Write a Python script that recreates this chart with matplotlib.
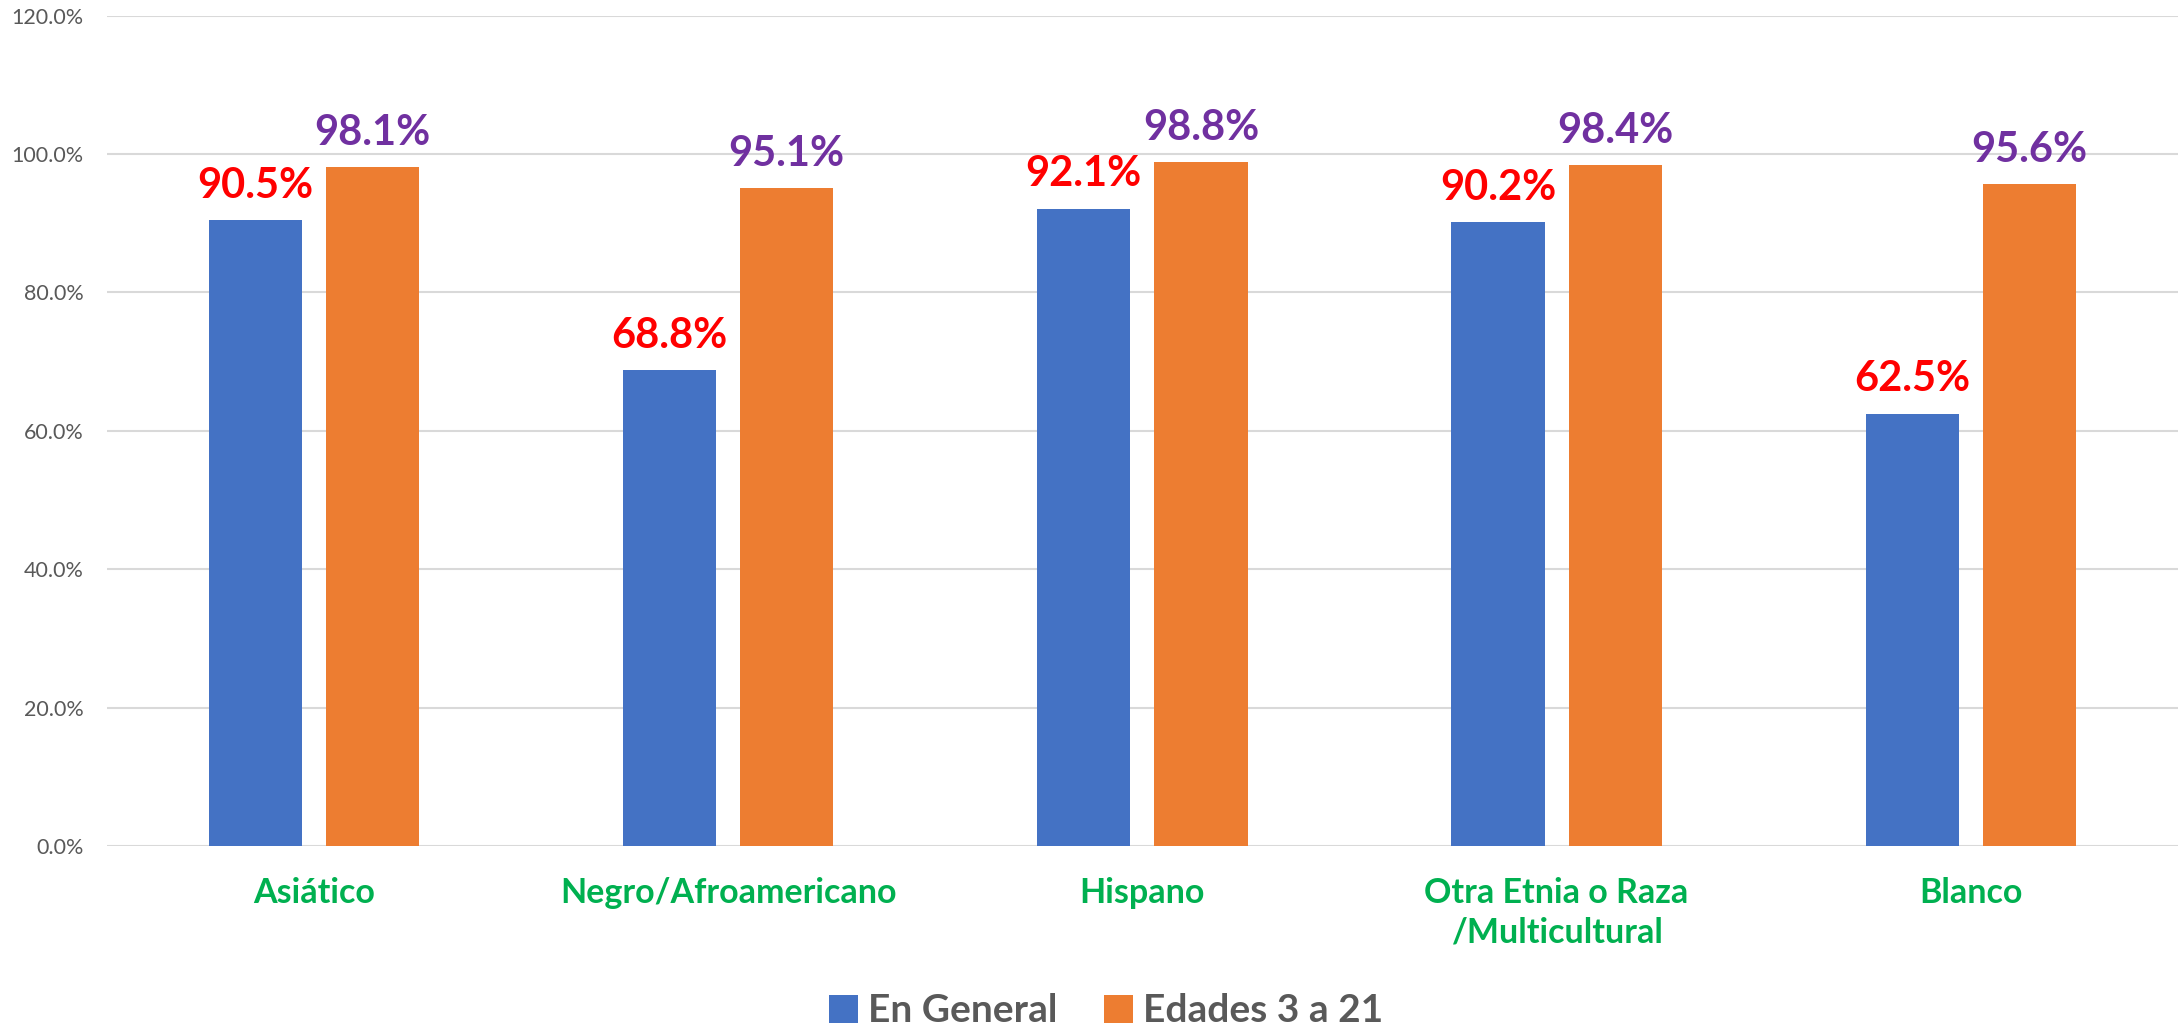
import numpy as np
import matplotlib.pyplot as plt
from matplotlib.ticker import FuncFormatter

# data
categories = ["Asiático", "Negro/Afroamericano", "Hispano",
              "Otra Etnia o Raza\n/Multicultural", "Blanco"]
en_general = [90.5, 68.8, 92.1, 90.2, 62.5]
edades_3_21 = [98.1, 95.1, 98.8, 98.4, 95.6]
series_names = ["En General", "Edades 3 a 21"]

plt.rcParams['font.family'] = ['Lato', 'DejaVu Sans']

fig = plt.figure(figsize=(21.81, 10.31), dpi=100)
ax = fig.add_axes([0.049, 0.1794, 0.9496, 0.8055])

x = np.arange(len(categories))
w = 0.225
off = 0.1415
b1 = ax.bar(x - off, en_general, w, color="#4472C4", label=series_names[0], zorder=3)
b2 = ax.bar(x + off, edades_3_21, w, color="#ED7D31", label=series_names[1], zorder=3)

for xi, v in zip(x, en_general):
    ax.annotate(f"{v:.1f}%", (xi - off, v), xytext=(0, 16), textcoords="offset points",
                ha="center", va="baseline", fontsize=30, fontweight="bold", color="#FF0000")
for xi, v in zip(x, edades_3_21):
    ax.annotate(f"{v:.1f}%", (xi + off, v), xytext=(0, 16), textcoords="offset points",
                ha="center", va="baseline", fontsize=30, fontweight="bold", color="#7030A0")

ax.set_xlim(-0.5, len(categories) - 0.5)
ax.set_ylim(0, 120)
ax.set_yticks(np.arange(0, 121, 20))
ax.yaxis.set_major_formatter(FuncFormatter(lambda v, p: f"{v:.1f}%"))
ax.grid(axis="y", color="#D9D9D9", linewidth=1.5, zorder=0)
for s in ["top", "right", "left", "bottom"]:
    ax.spines[s].set_visible(False)
ax.tick_params(axis="y", length=0, pad=17, labelsize=15.5, labelcolor="#595959")
ax.set_xticks(x)
ax.set_xticklabels(categories, fontsize=24.5, fontweight="bold", color="#00B050", linespacing=1.3)
ax.tick_params(axis="x", length=0, pad=22)

fig.legend(loc="center", bbox_to_anchor=(1106 / 2181, 1 - 1011 / 1031), ncol=2, frameon=False,
           prop={"size": 28, "weight": "bold"}, labelcolor="#595959",
           handlelength=0.75, handleheight=0.75, handletextpad=0.25, columnspacing=1.2)

fig.savefig("out.png", dpi=100)
